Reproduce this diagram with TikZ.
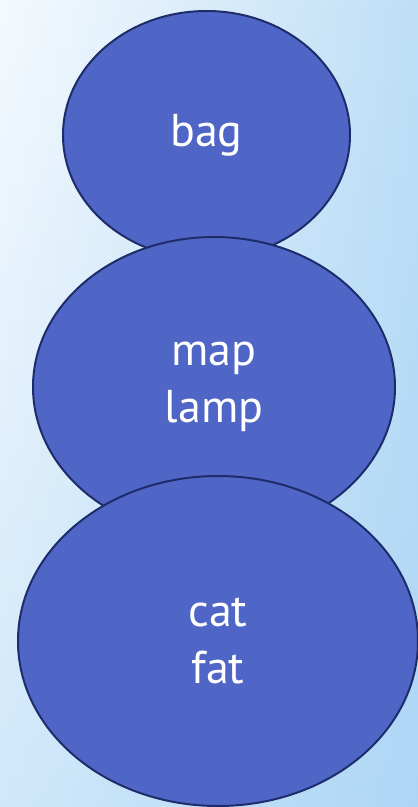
\documentclass[tikz,border=0pt]{standalone}
\usepackage{fontspec}
\setmainfont{PT Sans}
\usetikzlibrary{shapes.geometric,fadings}
\definecolor{bubblefill}{HTML}{4F66C7}
\definecolor{bubbleline}{HTML}{1F2C6A}
\definecolor{skyleft}{HTML}{F5FAFE}
\definecolor{skyright}{HTML}{BFDFF7}
\definecolor{skydeep}{HTML}{8CC6F2}
\tikzset{
  bubble/.style={
    ellipse, draw=bubbleline, line width=2pt, fill=bubblefill,
    text=white, inner sep=0pt, align=center,
    font=\fontsize{46}{57}\selectfont
  }
}

\begin{document}
\begin{tikzpicture}[x=1pt,y=-1pt]
\newcommand{\picw}{418}
\newcommand{\pich}{807}
\useasboundingbox (0,0) rectangle (\picw,\pich);
\shade [left color=skyleft, right color=skyright] (0,0) rectangle (\picw,\pich);
\fill [skydeep, path fading=north, fill opacity=0.35] (0,0) rectangle (\picw,\pich);
\node [bubble, minimum width=287pt, minimum height=248pt] (bag) at (206.5,135) {bag};
\node [bubble, minimum width=362pt, minimum height=300pt] (lamp) at (214,387) {map\\lamp};
\node [bubble, minimum width=400pt, minimum height=330pt] (fat) at (218,641) {cat\\fat};
\end{tikzpicture}
\end{document}
